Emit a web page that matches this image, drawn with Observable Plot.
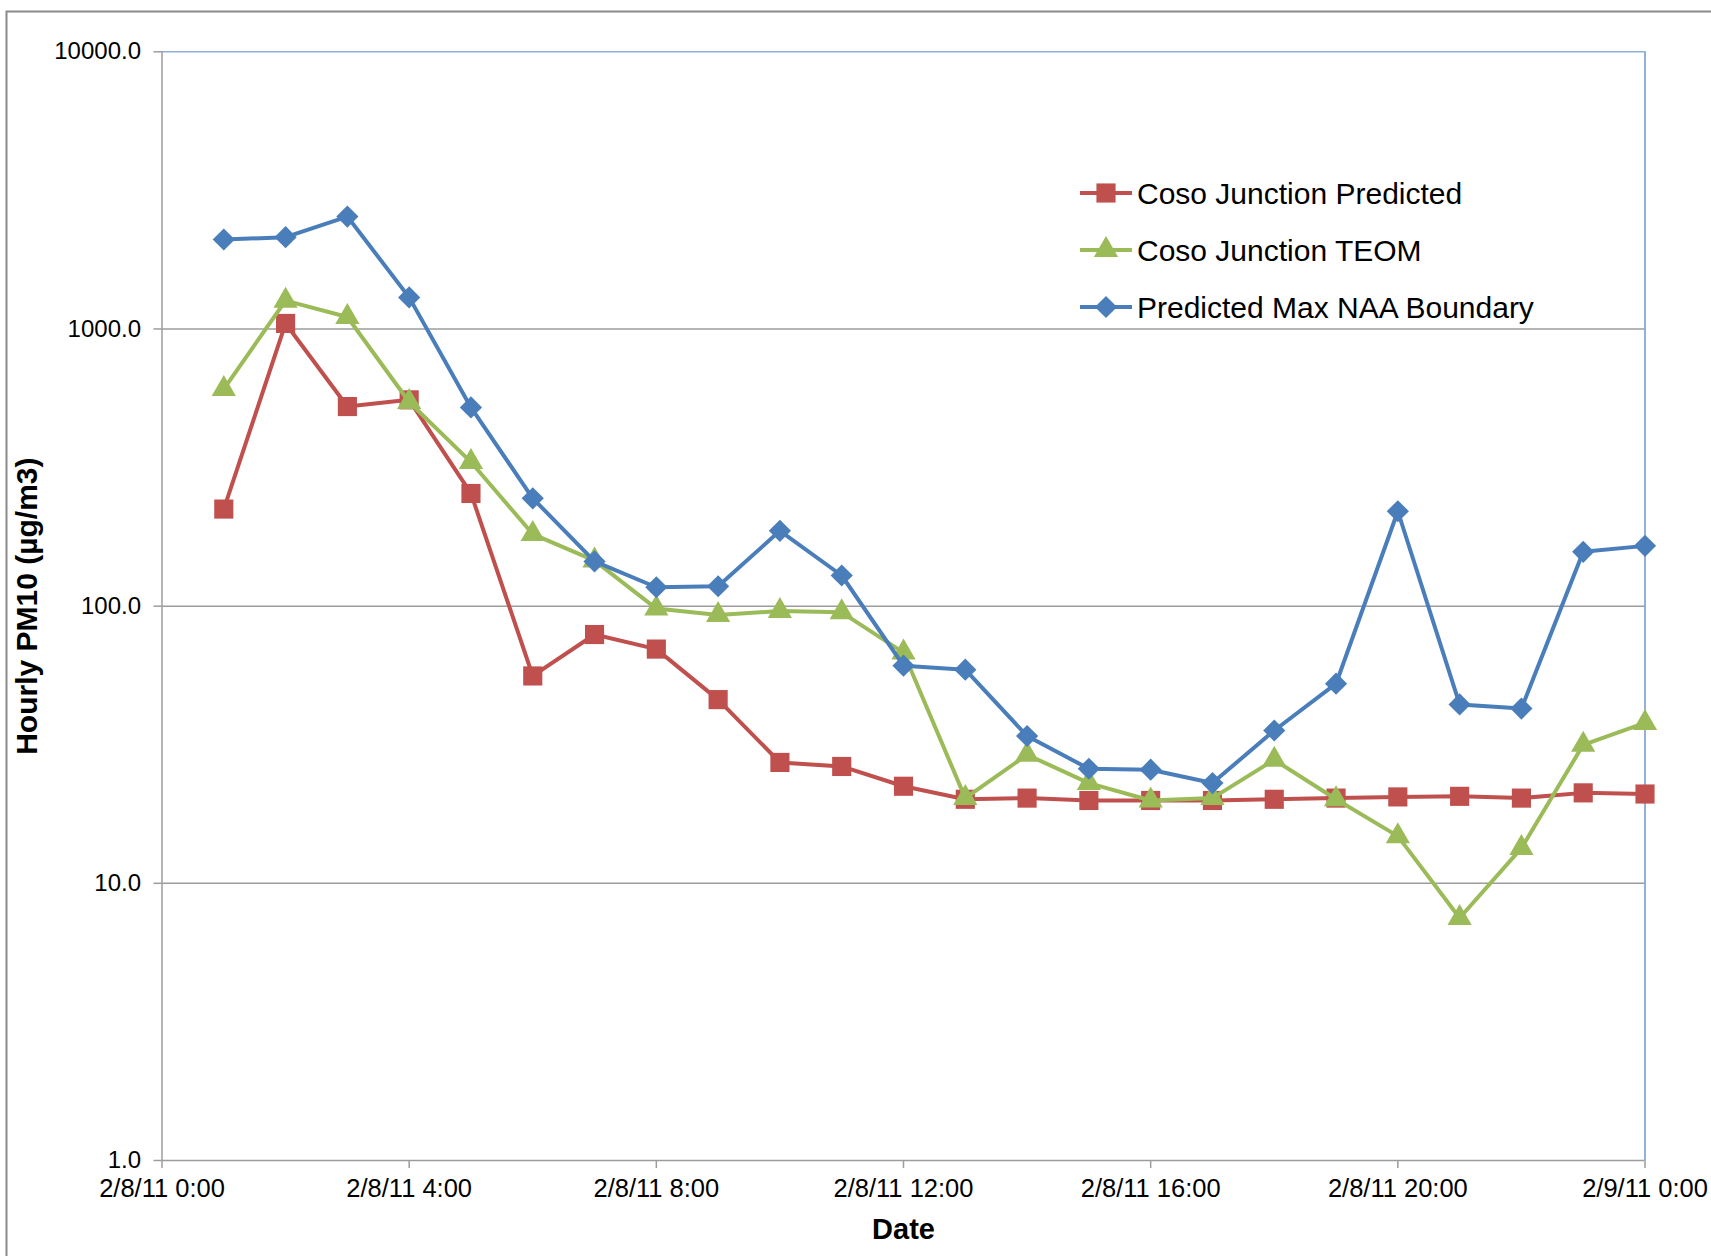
<!DOCTYPE html>
<html>
<head>
<meta charset="utf-8">
<script src="https://cdn.jsdelivr.net/npm/d3@7"></script>
<script src="https://cdn.jsdelivr.net/npm/@observablehq/plot@0.6"></script>
<style>
  html, body { margin: 0; padding: 0; background: #fff; }
  #chart { position: relative; width: 1711px; height: 1256px; overflow: hidden; }
  #chart svg { display: block; }
</style>
</head>
<body>
<div id="chart"></div>
<script>
// ---- data ----
const hours = [1,2,3,4,5,6,7,8,9,10,11,12,13,14,15,16,17,18,19,20,21,22,23,24];
const predicted = [224,1047,525,555,255,56,79,70,46,27.3,26.4,22.4,20.1,20.3,19.9,19.9,19.9,20.1,20.3,20.5,20.6,20.3,21.2,21.0];
const teom = [607,1265,1105,545,331,182,146,98,93,96,95,68,20.3,29.1,23,19.9,20.3,27.9,20.1,14.8,7.5,13.4,31.6,37.9];
const naa = [2103,2143,2545,1300,521,245,145,117,118,187,129,61,59,34,25.9,25.7,23,35.6,52.5,220,44.2,42.7,157,165];

const seriesNames = ["Coso Junction Predicted", "Coso Junction TEOM", "Predicted Max NAA Boundary"];
const seriesValues = [predicted, teom, naa];
const seriesColors = ["#C0504D", "#9BBB59", "#4A7EBB"];
const seriesSymbols = ["square", "triangle", "diamond2"];
const seriesRadius = [10.8, 9, 10];

const yTicks = [1, 10, 100, 1000, 10000];
const xTicks = [0, 4, 8, 12, 16, 20, 24];
const xTickLabels = ["2/8/11 0:00", "2/8/11 4:00", "2/8/11 8:00", "2/8/11 12:00", "2/8/11 16:00", "2/8/11 20:00", "2/9/11 0:00"];
const xTitle = "Date";
const yTitle = "Hourly PM10 (µg/m3)";

// ---- build table ----
const rows = [];
seriesNames.forEach((name, i) => {
  seriesValues[i].forEach((v, j) => rows.push({series: name, hour: hours[j], value: v}));
});

const font = "'Liberation Sans', Arial, Helvetica, sans-serif";

const seriesMarks = [];
seriesNames.forEach((name, i) => {
  const d = rows.filter(r => r.series === name);
  seriesMarks.push(Plot.line(d, {x: "hour", y: "value", stroke: seriesColors[i], strokeWidth: 4}));
  seriesMarks.push(Plot.dot(d, {x: "hour", y: "value", fill: seriesColors[i], stroke: "none", symbol: () => seriesSymbols[i], r: seriesRadius[i]}));
});

const chart = Plot.plot({
  width: 1711,
  height: 1256,
  marginLeft: 161.5,
  marginRight: 66.5,
  marginTop: 51.3,
  marginBottom: 96,
  style: {fontFamily: font, fontSize: "24px", color: "#000", background: "#fff", overflow: "visible"},
  x: {type: "linear", domain: [0, 24], label: null},
  y: {type: "log", domain: [1, 10000], label: null},
  symbol: {type: "identity"},
  marks: [
    Plot.ruleY(yTicks.filter(t => t > 1 && t < 10000), {stroke: "#9C9C9C", strokeWidth: 1.5}),
    Plot.ruleY([yTicks[yTicks.length - 1]], {stroke: "#8EAEDA", strokeWidth: 1.5}),
    Plot.ruleX([xTicks[xTicks.length - 1]], {stroke: "#6E97CC", strokeWidth: 1.5}),
    Plot.ruleX([xTicks[0]], {stroke: "#9C9C9C", strokeWidth: 1.5}),
    Plot.ruleY([yTicks[0]], {stroke: "#9C9C9C", strokeWidth: 1.5}),
    Plot.axisY({ticks: yTicks, tickSize: 8, tickPadding: 13, stroke: "#9C9C9C", strokeWidth: 1.5, fill: "#000",
                tickFormat: d => d.toFixed(1), label: null}),
    Plot.axisX({ticks: xTicks, tickSize: 8, tickPadding: 10, stroke: "#9C9C9C", strokeWidth: 1.5, fill: "#000",
                fontSize: 25.5, tickFormat: d => xTickLabels[xTicks.indexOf(d)], label: null}),
    ...seriesMarks,
    Plot.text([yTitle], {frameAnchor: "left", dx: -134.5, rotate: -90, fontSize: 30, fontWeight: "bold",
                         textAnchor: "middle", lineAnchor: "middle", fill: "#000"}),
    Plot.text([xTitle], {frameAnchor: "bottom", dy: 69, fontSize: 29, fontWeight: "bold",
                         textAnchor: "middle", lineAnchor: "middle", fill: "#000"})
  ]
});

document.getElementById("chart").appendChild(chart);

// ---- outer border & legend ----
const svg = d3.select(chart);
svg.insert("rect", ":first-child")
  .attr("x", 6.5).attr("y", 11.5).attr("width", 1730).attr("height", 1270)
  .attr("fill", "none").attr("stroke", "#8A8A8A").attr("stroke-width", 2);

const legend = svg.append("g").attr("transform", "translate(1080,193)");
seriesNames.forEach((name, i) => {
  const g = legend.append("g").attr("transform", `translate(0,${i * 57})`);
  g.append("line").attr("x1", 0).attr("x2", 52).attr("y1", 0).attr("y2", 0)
    .attr("stroke", seriesColors[i]).attr("stroke-width", 4);
  const sym = {square: d3.symbolSquare, triangle: d3.symbolTriangle, diamond2: d3.symbolDiamond2}[seriesSymbols[i]];
  g.append("path").attr("transform", "translate(26,0)")
    .attr("d", d3.symbol(sym, Math.PI * seriesRadius[i] * seriesRadius[i])())
    .attr("fill", seriesColors[i]);
  g.append("text").attr("x", 57).attr("y", 0).attr("dy", "0.36em")
    .attr("text-anchor", "start")
    .attr("font-family", font).attr("font-size", 30).attr("fill", "#000")
    .text(name);
});
</script>
</body>
</html>
